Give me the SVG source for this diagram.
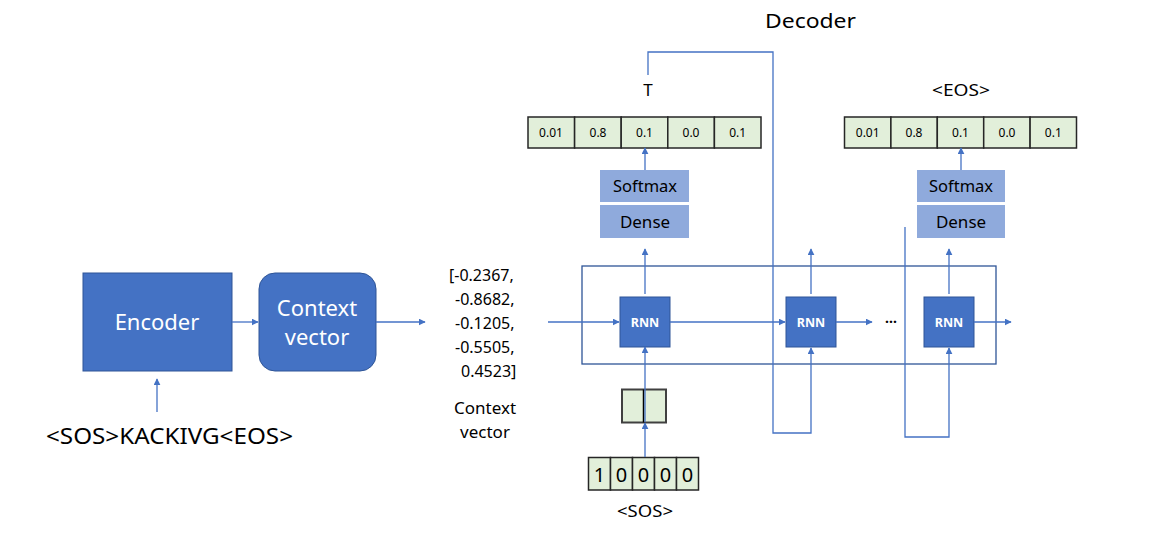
<svg xmlns="http://www.w3.org/2000/svg" width="1158" height="555" viewBox="0 0 1158 555">
<defs>
<style>
text{font-family:"Noto Sans","Open Sans",sans-serif;}
.blue{fill:#4472C4;stroke:#2F5597;stroke-width:1}
.light{fill:#8FAADC;stroke:none}
.cell{fill:#E2EFDA;stroke:#262626;stroke-width:1.5}
.ln{fill:none;stroke:#4472C4;stroke-width:1.3}
.wt{fill:#fff;text-anchor:middle}
.bk{fill:#000;text-anchor:middle}
</style>
<marker id="ah" viewBox="0 0 10 10" refX="9" refY="5" markerWidth="7" markerHeight="7" orient="auto" markerUnits="userSpaceOnUse"><path d="M0,0 L10,5 L0,10 z" fill="#4472C4"/></marker>
</defs>
<rect width="1158" height="555" fill="#fff"/>

<g id="encoder"><rect class="blue" x="83" y="273" width="149" height="98"/><text class="wt" x="157" y="330" font-size="22">Encoder</text></g>
<g id="context"><rect class="blue" x="259" y="273" width="117" height="98" rx="16"/><text class="wt" x="317" y="316" font-size="22">Context</text><text class="wt" x="317" y="345" font-size="22">vector</text></g>
<g id="input-seq"><text x="46" y="444" font-size="22" fill="#000" textLength="247" lengthAdjust="spacingAndGlyphs">&lt;SOS&gt;KACKIVG&lt;EOS&gt;</text></g>

<g id="context-values" font-size="16">
<text x="449" y="281" fill="#000">[-0.2367,</text>
<text x="455" y="305" fill="#000">-0.8682,</text>
<text x="455" y="329" fill="#000">-0.1205,</text>
<text x="455" y="353" fill="#000">-0.5505,</text>
<text x="461" y="377" fill="#000">0.4523]</text>
<text class="bk" x="485" y="414" font-size="17">Context</text>
<text class="bk" x="485" y="438" font-size="17">vector</text>
</g>

<g id="decoder-title"><text x="765" y="28" font-size="20" fill="#000" textLength="91" lengthAdjust="spacingAndGlyphs">Decoder</text></g>
<g id="frame"><rect x="582" y="266" width="414" height="98" fill="none" stroke="#2F5597" stroke-width="1.3"/></g>

<g id="rnn1"><rect class="blue" x="620" y="297" width="50" height="50"/><text class="wt" x="645" y="327" font-size="12.5" font-weight="bold">RNN</text></g>
<g id="rnn2"><rect class="blue" x="786" y="297" width="50" height="50"/><text class="wt" x="811" y="327" font-size="12.5" font-weight="bold">RNN</text></g>
<g id="rnn3"><rect class="blue" x="924" y="297" width="50" height="50"/><text class="wt" x="949" y="327" font-size="12.5" font-weight="bold">RNN</text></g>
<g id="dots"><text class="bk" x="891" y="327" font-size="14" font-weight="bold">···</text></g>

<g id="dense1"><rect class="light" x="600" y="205" width="89" height="33"/><text class="bk" x="645" y="228" font-size="17">Dense</text></g>
<g id="softmax1"><rect class="light" x="600" y="170" width="89" height="32"/><text class="bk" x="645" y="192" font-size="16.5">Softmax</text></g>
<g id="dense2"><rect class="light" x="917" y="205" width="88" height="33"/><text class="bk" x="961" y="228" font-size="17">Dense</text></g>
<g id="softmax2"><rect class="light" x="917" y="170" width="88" height="32"/><text class="bk" x="961" y="192" font-size="16.5">Softmax</text></g>

<g id="probs1" font-size="12">
<rect class="cell" x="528" y="117" width="46.6" height="31"/><rect class="cell" x="574.6" y="117" width="46.6" height="31"/><rect class="cell" x="621.2" y="117" width="46.6" height="31"/><rect class="cell" x="667.8" y="117" width="46.6" height="31"/><rect class="cell" x="714.4" y="117" width="46.6" height="31"/>
<text class="bk" x="551" y="136.5">0.01</text><text class="bk" x="598" y="136.5">0.8</text><text class="bk" x="644.5" y="136.5">0.1</text><text class="bk" x="691" y="136.5">0.0</text><text class="bk" x="737.7" y="136.5">0.1</text>
</g>
<g id="probs2" font-size="12">
<rect class="cell" x="844.5" y="117" width="46.4" height="31"/><rect class="cell" x="890.9" y="117" width="46.4" height="31"/><rect class="cell" x="937.3" y="117" width="46.4" height="31"/><rect class="cell" x="983.7" y="117" width="46.4" height="31"/><rect class="cell" x="1030.1" y="117" width="46.4" height="31"/>
<text class="bk" x="867.7" y="136.5">0.01</text><text class="bk" x="914" y="136.5">0.8</text><text class="bk" x="960.5" y="136.5">0.1</text><text class="bk" x="1007" y="136.5">0.0</text><text class="bk" x="1053.3" y="136.5">0.1</text>
</g>
<g id="out1"><text class="bk" x="648" y="96" font-size="17">T</text></g>
<g id="out2"><text x="932" y="96" font-size="17" fill="#000" textLength="58" lengthAdjust="spacingAndGlyphs">&lt;EOS&gt;</text></g>

<g id="embedding"><rect x="622" y="389.5" width="44" height="33" fill="#E2EFDA" stroke="#404040" stroke-width="2"/><line x1="643.5" y1="389.5" x2="643.5" y2="422.5" stroke="#000" stroke-width="1.5"/></g>
<g id="onehot" font-size="20">
<rect class="cell" x="588.5" y="457.5" width="22" height="32.5"/><rect class="cell" x="610.5" y="457.5" width="22" height="32.5"/><rect class="cell" x="632.5" y="457.5" width="22" height="32.5"/><rect class="cell" x="654.5" y="457.5" width="22" height="32.5"/><rect class="cell" x="676.5" y="457.5" width="22" height="32.5"/>
<text class="bk" x="599.5" y="482">1</text><text class="bk" x="621.5" y="482">0</text><text class="bk" x="643.5" y="482">0</text><text class="bk" x="665.5" y="482">0</text><text class="bk" x="687.5" y="482">0</text>
</g>
<g id="sos"><text x="617" y="517" font-size="17" fill="#000" textLength="56" lengthAdjust="spacingAndGlyphs">&lt;SOS&gt;</text></g>

<g id="connectors" class="ln">
<line class="ln" x1="232" y1="322" x2="258" y2="322" marker-end="url(#ah)"/>
<line class="ln" x1="376" y1="322" x2="425" y2="322" marker-end="url(#ah)"/>
<line class="ln" x1="157" y1="412" x2="157" y2="379" marker-end="url(#ah)"/>
<line class="ln" x1="548" y1="322" x2="619" y2="322" marker-end="url(#ah)"/>
<line class="ln" x1="670" y1="322" x2="785" y2="322" marker-end="url(#ah)"/>
<line class="ln" x1="836" y1="322" x2="872" y2="322" marker-end="url(#ah)"/>
<line class="ln" x1="974" y1="322" x2="1011" y2="322" marker-end="url(#ah)"/>
<line class="ln" x1="645" y1="294" x2="645" y2="249" marker-end="url(#ah)"/>
<line class="ln" x1="811" y1="294" x2="811" y2="249" marker-end="url(#ah)"/>
<line class="ln" x1="949" y1="294" x2="949" y2="249" marker-end="url(#ah)"/>
<line class="ln" x1="645" y1="170" x2="645" y2="148" marker-end="url(#ah)"/>
<line class="ln" x1="961" y1="170" x2="961" y2="148" marker-end="url(#ah)"/>
<line class="ln" x1="645" y1="457" x2="645" y2="423" marker-end="url(#ah)"/>
<line class="ln" x1="645" y1="422" x2="645" y2="347" marker-end="url(#ah)"/>
<polyline class="ln" points="648,75 648,52 773,52 773,433 811,433 811,348" marker-end="url(#ah)"/>
<polyline class="ln" points="905,227 905,437 949,437 949,348" marker-end="url(#ah)"/>
</g>
</svg>
